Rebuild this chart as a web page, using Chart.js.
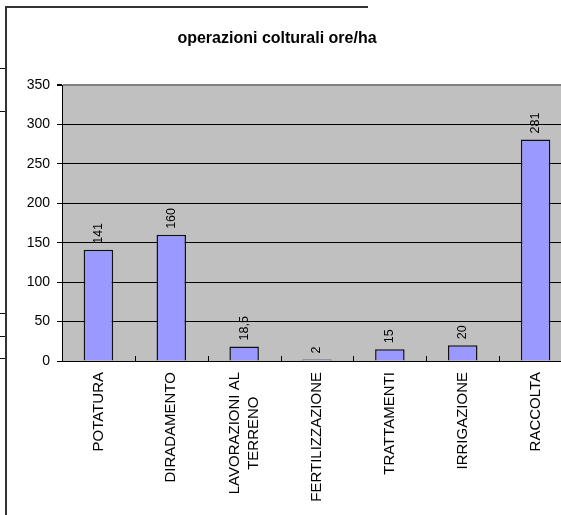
<!DOCTYPE html>
<html>
<head>
<meta charset="utf-8">
<script src="https://cdn.jsdelivr.net/npm/chart.js@4/dist/chart.umd.min.js"></script>
<style>
  html, body { margin: 0; padding: 0; background: #fff; overflow: hidden; }
  canvas { display: block; }
</style>
</head>
<body>
<canvas id="chartjs_bar" width="575" height="515"></canvas>
<script>
'use strict';

// data
var categories = [
    'POTATURA',
    'DIRADAMENTO',
    ['LAVORAZIONI AL', 'TERRENO'],
    'FERTILIZZAZIONE',
    'TRATTAMENTI',
    'IRRIGAZIONE',
    'RACCOLTA'
];
var oreHa = [141, 160, 18.5, 2, 15, 20, 281];
var yTicks = [0, 50, 100, 150, 200, 250, 300, 350];
var chartTitle = 'operazioni colturali ore/ha';

var FONT = '"Liberation Sans", Arial, sans-serif';

// draws the things Excel puts around the bars: title, value labels,
// category labels, inside tick marks and the old frame lines
var excelBits = {
    id: 'excelBits',
    beforeDraw: function(chart) {
        var ctx = chart.ctx, a = chart.chartArea;
        ctx.save();
        ctx.fillStyle = '#fff';
        ctx.fillRect(0, 0, chart.width, chart.height);
        ctx.fillStyle = '#c0c0c0';
        ctx.fillRect(a.left, a.top, a.right - a.left, a.bottom - a.top);
        ctx.restore();
    },
    afterDraw: function(chart) {
        var ctx = chart.ctx, a = chart.chartArea;
        var xs = chart.scales.x;
        var meta = chart.getDatasetMeta(0);
        ctx.save();

        // title
        ctx.fillStyle = '#000';
        ctx.font = 'bold 16px ' + FONT;
        ctx.textAlign = 'center';
        ctx.textBaseline = 'middle';
        ctx.fillText(chartTitle, 277, 39);

        // value labels, rotated
        ctx.font = '12.5px ' + FONT;
        meta.data.forEach(function(bar, i) {
            var txt = String(oreHa[i]).replace('.', ',');
            ctx.save();
            ctx.translate(bar.x, bar.y - 6);
            ctx.rotate(-Math.PI / 2);
            ctx.textAlign = 'left';
            ctx.textBaseline = 'middle';
            ctx.fillText(txt, 0, 0);
            ctx.restore();
        });

        // category labels, rotated, lines centred on each other
        ctx.font = '15px ' + FONT;
        categories.forEach(function(lab, i) {
            var lines = Array.isArray(lab) ? lab : [lab];
            var maxW = 0;
            lines.forEach(function(l) { maxW = Math.max(maxW, ctx.measureText(l).width); });
            var cx = xs.getPixelForValue(i);
            var lh = 19;
            var y0 = a.bottom + 11;
            lines.forEach(function(l, k) {
                var off = (k - (lines.length - 1) / 2) * lh;
                ctx.save();
                ctx.translate(cx + off, y0 + maxW / 2);
                ctx.rotate(-Math.PI / 2);
                ctx.textAlign = 'center';
                ctx.textBaseline = 'middle';
                ctx.fillText(l, 0, 0);
                ctx.restore();
            });
        });

        // inside tick marks between categories
        ctx.strokeStyle = '#000';
        ctx.lineWidth = 1;
        var half = (xs.getPixelForValue(1) - xs.getPixelForValue(0)) / 2;
        for (var i = 1; i < categories.length; i++) {
            var tx = Math.round(xs.getPixelForValue(i) - half) + 0.5;
            ctx.beginPath();
            ctx.moveTo(tx, a.bottom - 5);
            ctx.lineTo(tx, a.bottom);
            ctx.stroke();
        }

        // frame of the picture
        ctx.strokeStyle = '#333';
        ctx.lineWidth = 2;
        ctx.beginPath();
        ctx.moveTo(6, 515);
        ctx.lineTo(6, 7);
        ctx.lineTo(368, 7);
        ctx.stroke();
        ctx.lineWidth = 1;
        ctx.strokeStyle = '#111';
        [68, 111, 313, 336, 358].forEach(function(y) {
            ctx.beginPath();
            ctx.moveTo(0, y + 0.5);
            ctx.lineTo(5, y + 0.5);
            ctx.stroke();
        });
        ctx.restore();
    }
};

function draw_chart() {
    var chartjs_bar = document.getElementById('chartjs_bar');
    var ctx = chartjs_bar.getContext('2d');
    return new Chart(ctx, {
        type: 'bar',
        data: {
            labels: categories,
            datasets: [{
                label: 'ore/ha',
                data: oreHa,
                backgroundColor: '#9999ff',
                borderColor: '#111',
                borderWidth: 1.5,
                categoryPercentage: 1,
                barPercentage: 0.405
            }]
        },
        options: {
            responsive: false,
            animation: false,
            devicePixelRatio: 1,
            layout: { padding: { top: 85, right: 3, left: 0, bottom: 0 } },
            plugins: {
                legend: { display: false },
                title: { display: false },
                tooltip: { enabled: false }
            },
            scales: {
                x: {
                    ticks: { display: false },
                    grid: { display: true, drawOnChartArea: false, drawTicks: false },
                    border: { display: true, color: '#000', width: 1 },
                    afterFit: function(s) { s.height = 154; }
                },
                y: {
                    min: yTicks[0],
                    max: yTicks[yTicks.length - 1],
                    afterBuildTicks: function(s) {
                        s.ticks = yTicks.map(function(v) { return { value: v }; });
                    },
                    ticks: {
                        color: '#000',
                        padding: 7,
                        font: { family: FONT, size: 14 }
                    },
                    grid: {
                        color: function(c) { return c.tick && c.tick.value === 350 ? '#808080' : '#000'; },
                        lineWidth: function(c) { return c.tick && c.tick.value === 350 ? 2 : 1; },
                        tickColor: '#000',
                        tickLength: 5
                    },
                    border: { display: true, color: '#000', width: 1 },
                    afterFit: function(s) { s.width = 62; }
                }
            }
        },
        plugins: [excelBits]
    });
}

draw_chart();
</script>
</body>
</html>
